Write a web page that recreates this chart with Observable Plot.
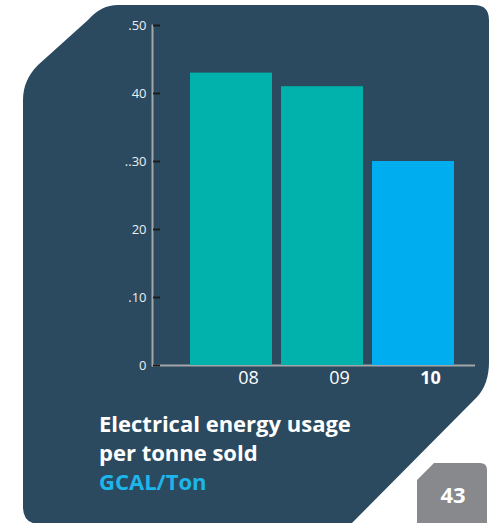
<!DOCTYPE html>
<html>
<head>
<meta charset="utf-8">
<script src="https://cdn.jsdelivr.net/npm/d3@7"></script>
<script src="https://cdn.jsdelivr.net/npm/@observablehq/plot@0.6"></script>
<style>
  html, body { margin: 0; padding: 0; background: #ffffff; }
  #wrap { position: relative; width: 491px; height: 523px; overflow: hidden; font-family: "Open Sans", sans-serif; }
  #bg { position: absolute; left: 0; top: 0; }
  #chart { position: absolute; left: 0; top: 0; }
  #title { position: absolute; left: 99px; top: 409px; color: #ffffff; font-weight: 700; font-size: 22px; line-height: 29px; white-space: nowrap; }
  #title .unit { color: #1db6ea; }
  #page { position: absolute; left: 418px; top: 479px; width: 70px; text-align: center; color: #ffffff; font-weight: 700; font-size: 22px; line-height: 30px; }
</style>
</head>
<body>
<div id="wrap">
  <svg id="bg" width="491" height="523">
    <path d="M118,5 L474,5 Q489,5 489,20 L489,362 Q489,384 477,397 L351,524 L40,524 Q23,524 23,507 L23,100 Q23,80 38,65 L88,20 Q101,5 118,5 Z" fill="#2b4a5f"/>
    <path d="M434,463 L480,463 Q487,463 487,470 L487,524 L417,524 L417,480 Z" fill="#88898c"/>
  </svg>
  <div id="chart"></div>
  <div id="title">Electrical energy usage<br>per tonne sold<br><span class="unit">GCAL/Ton</span></div>
  <div id="page">43</div>
</div>
<script>
const years = ["08", "09", "10"];
const values = [0.43, 0.41, 0.30];
const barColors = ["#00b1ac", "#00b1ac", "#00adee"];
const yTicks = [0, 0.1, 0.2, 0.3, 0.4, 0.5];
const yTickLabels = ["0", ".10", "20", "..30", "40", ".50"];

const data = years.map((y, i) => ({year: y, value: values[i], color: barColors[i]}));

const chart = Plot.plot({
  width: 491,
  height: 400,
  marginTop: 25,
  marginBottom: 35,
  marginLeft: 152,
  marginRight: 16,
  style: {background: "transparent", fontFamily: "Open Sans, sans-serif", overflow: "visible"},
  x: {domain: years, range: [190, 454], paddingInner: 0.1, paddingOuter: 0, axis: null},
  y: {domain: [0, 0.5], axis: null},
  marks: [
    Plot.ruleY([0], {stroke: "#a3a6a8", strokeWidth: 2}),
    Plot.frame({anchor: "left", stroke: "#a3a6a8", strokeWidth: 2}),
    Plot.ruleY(yTicks, {y: d => d, stroke: "#1c1c1c", strokeWidth: 2, insetLeft: 1, insetRight: (491 - 16 - 152) - 8}),
    Plot.barY(data, {x: "year", y: "value", fill: "color"}),
    Plot.text(yTicks, {y: d => d, text: (d, i) => yTickLabels[i], frameAnchor: "left", textAnchor: "end", dx: -6, fill: "#e9eef1", fontSize: 13}),
    Plot.text(years, {x: d => d, text: d => d, frameAnchor: "bottom", dy: 18, dx: 17, fill: "#ffffff", fontSize: 18, filter: d => d !== "10"}),
    Plot.text(years, {x: d => d, text: d => d, frameAnchor: "bottom", dy: 18, dx: 17, fill: "#ffffff", fontSize: 18, fontWeight: "bold", filter: d => d === "10"})
  ]
});
document.getElementById("chart").appendChild(chart);
</script>
</body>
</html>
